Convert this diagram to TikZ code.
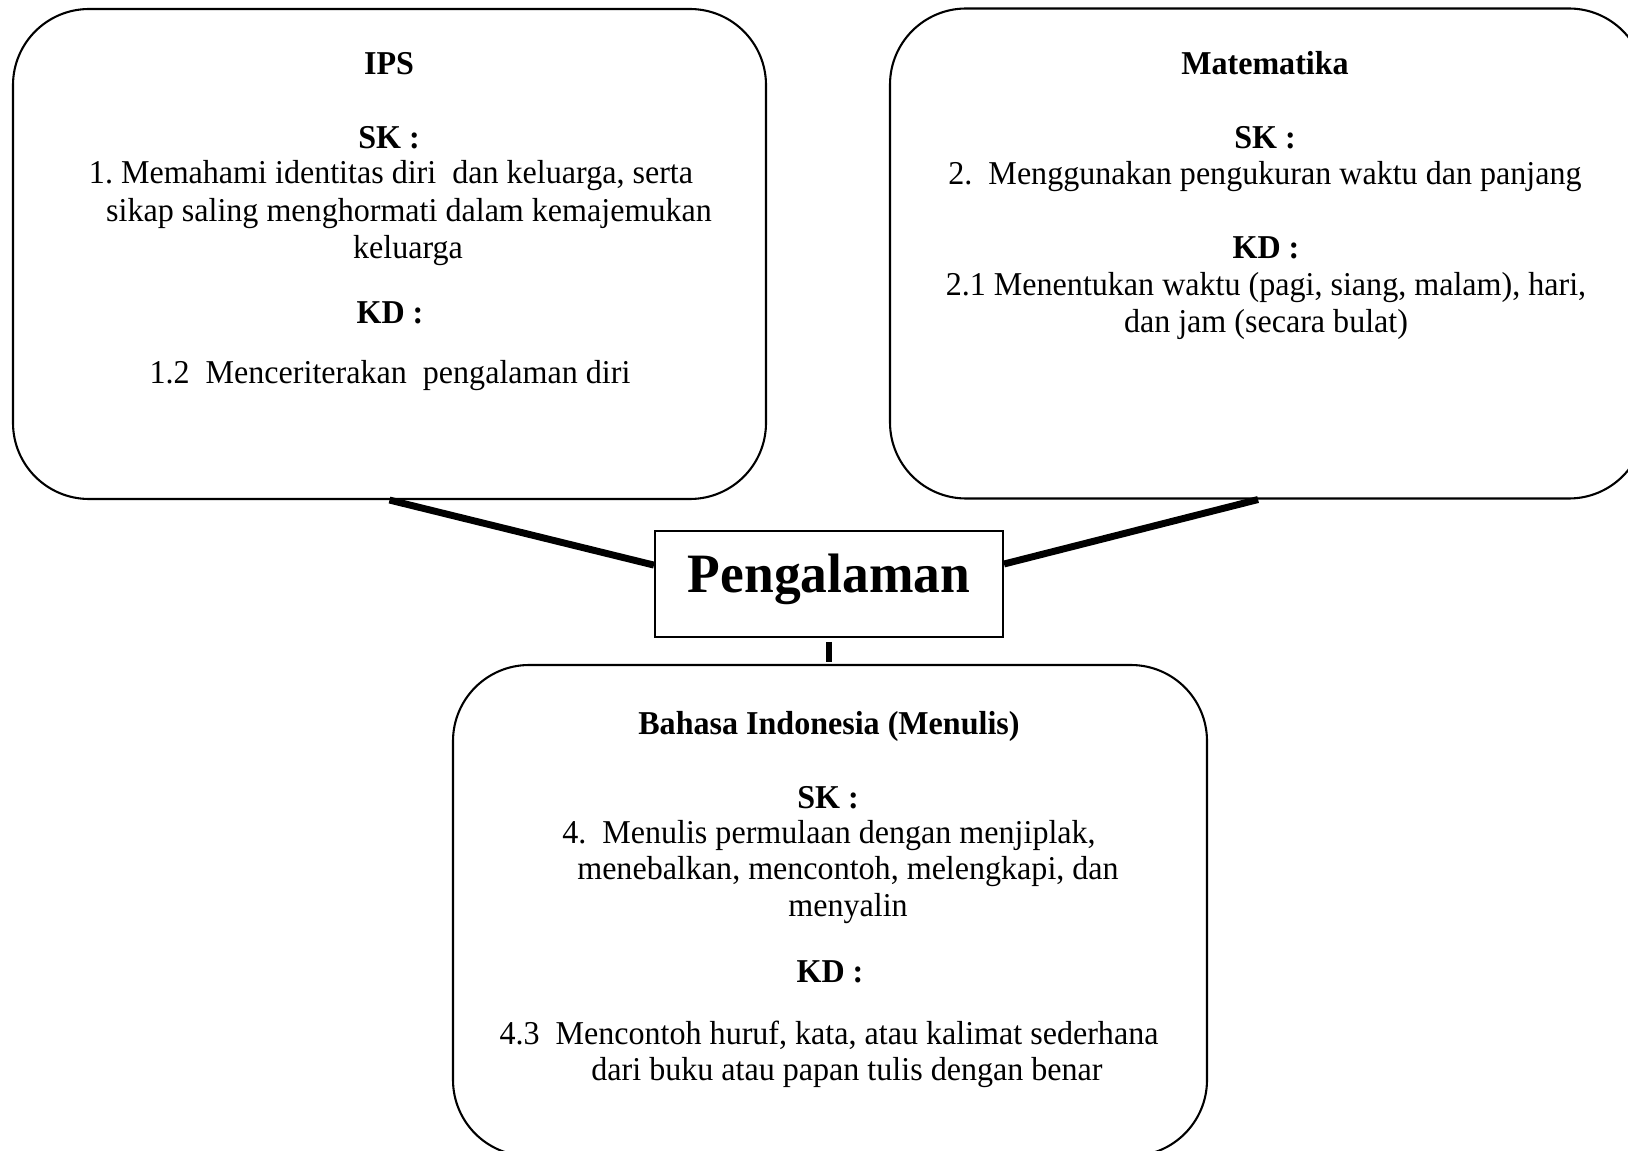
\documentclass[tikz,border=0pt]{standalone}
\usepackage{fontspec}
\setmainfont{Liberation Serif}[FakeStretch=0.962]
\newcommand{\pxu}{0.36pt}
\tikzstyle{subject}=[draw, line width=0.75pt, rounded corners=27.4pt,
  minimum width=753*\pxu, minimum height=490*\pxu]
\tikzstyle{topic}=[draw, line width=0.75pt, inner sep=0pt,
  minimum width=348*\pxu, minimum height=106*\pxu,
  font=\fontsize{20}{24}\selectfont\bfseries, text height=14pt, text depth=8.2pt]
\tikzstyle{entry}=[anchor=base, inner sep=0pt, font=\fontsize{12}{14}\selectfont]
\tikzstyle{link}=[line width=2.5pt]

\begin{document}
\begin{tikzpicture}[x=0.36pt, y=-0.36pt]
  \useasboundingbox (0, 0) rectangle (1628, 1151);
  \clip (0, 0) rectangle (1628, 1151);
  % the three subjects and the theme
  \node[subject] (ips) at (389.5, 254) {};
  \node[subject, minimum width=755*\pxu] (mat) at (1267.5, 253.5) {};
  \node[subject, minimum width=754*\pxu, minimum height=491*\pxu] (bind) at (830, 910.5) {};
  \node[topic] (peng) at (829, 584) {Pengalaman};
  % IPS
  \foreach \xx/\yy/\txt [count=\i] in {
      389/75/{\textbf{IPS}},
      389/149/{\textbf{SK :}},
      391/184/{1.\ Memahami identitas diri\ \ dan keluarga, serta},
      409/222/{sikap saling menghormati dalam kemajemukan},
      408/259/{keluarga},
      390/324/{\textbf{KD :}},
      390/384/{1.2\ \ Menceriterakan\ \ pengalaman diri}}
    \node[entry] (ips-\i) at (\xx, \yy) {\txt};
  % Matematika
  \foreach \xx/\yy/\txt [count=\i] in {
      1265/75/{\textbf{Matematika}},
      1265/149/{\textbf{SK :}},
      1265/185/{2.\ \ Menggunakan pengukuran waktu dan panjang},
      1266/259/{\textbf{KD :}},
      1266/296/{2.1 Menentukan waktu (pagi, siang, malam), hari,},
      1266/333/{dan jam (secara bulat)}}
    \node[entry] (mat-\i) at (\xx, \yy) {\txt};
  % Bahasa Indonesia
  \foreach \xx/\yy/\txt [count=\i] in {
      829/734/{\textbf{Bahasa Indonesia (Menulis)}},
      828/808/{\textbf{SK :}},
      829/843/{4.\ \ Menulis permulaan dengan menjiplak,},
      848/879/{menebalkan, mencontoh, melengkapi, dan},
      848/916/{menyalin},
      830/982/{\textbf{KD :}},
      829/1044/{4.3\ \ Mencontoh huruf, kata, atau kalimat sederhana},
      847/1080/{dari buku atau papan tulis dengan benar}}
    \node[entry] (bind-\i) at (\xx, \yy) {\txt};
  % links
  \draw[link] (ips.south) -- ([yshift=6.8pt]peng.west);
  \draw[link] ([xshift=-3.4pt]mat.south) -- ([yshift=7.2pt]peng.east);
  \draw[link, shorten <=1.4pt, shorten >=0.7pt] (peng.south) -- (peng.south |- bind.north);
\end{tikzpicture}
\end{document}
